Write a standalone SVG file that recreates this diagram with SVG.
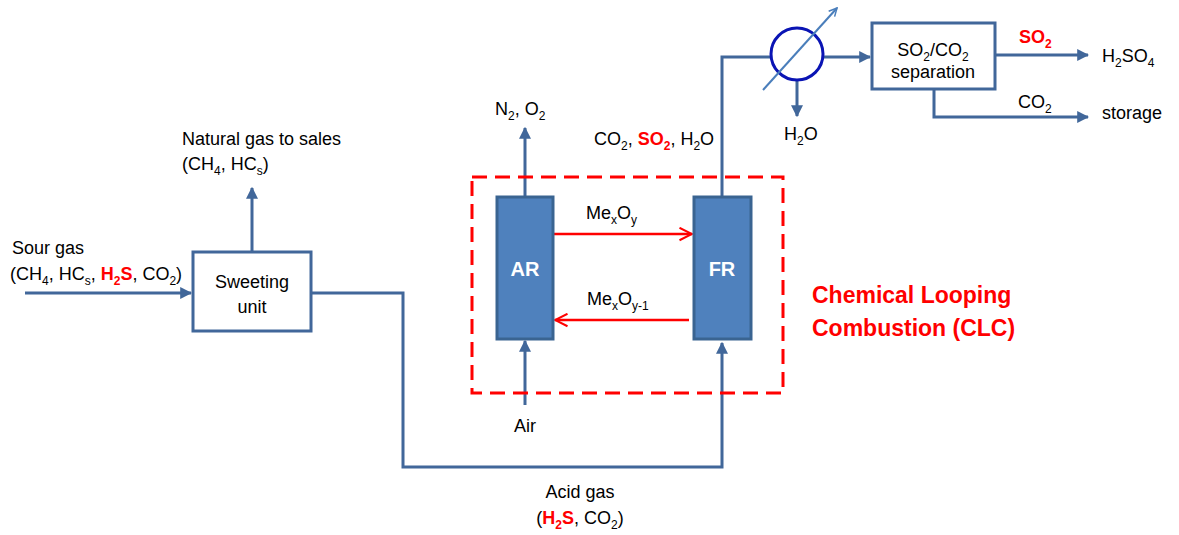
<svg xmlns="http://www.w3.org/2000/svg" width="1179" height="535" viewBox="0 0 1179 535">
<defs>
<style>
.t{font-family:"Liberation Sans",Arial,sans-serif;font-size:18px;fill:#000}
.s{font-size:12px}
.r{fill:#ff0000;font-weight:bold}
.ln{fill:none;stroke:#41679A;stroke-width:3}
.box{fill:#fff;stroke:#41679A;stroke-width:3}
.re{fill:#4F81BD;stroke:#3A6491;stroke-width:3}
.red{fill:none;stroke:#ff0000;stroke-width:2.5}
.w{fill:#fff;font-weight:bold;font-size:20px}
.clc{fill:#ff0000;font-weight:bold;font-size:23px}
</style>
<marker id="a" viewBox="0 0 10 10" refX="9" refY="5" markerWidth="4" markerHeight="4" orient="auto" markerUnits="strokeWidth"><path d="M0,0 L10,5 L0,10 z" fill="#41679A"/></marker>
<marker id="ro" viewBox="0 0 12 12" refX="11" refY="6" markerWidth="6" markerHeight="6" orient="auto" markerUnits="strokeWidth"><path d="M1,1 L11,6 L1,11" fill="none" stroke="#ff0000" stroke-width="1.6"/></marker>
<marker id="lb" viewBox="0 0 10 10" refX="9" refY="5" markerWidth="5" markerHeight="5" orient="auto" markerUnits="strokeWidth"><path d="M1,1 L9,5 L1,9" fill="none" stroke="#4A7EBB" stroke-width="1.5"/></marker>
</defs>
<g id="connectors">
<line class="ln" x1="25" y1="293" x2="191" y2="293" marker-end="url(#a)"/>
<line class="ln" x1="252" y1="252" x2="252" y2="188" marker-end="url(#a)"/>
<polyline class="ln" points="311,293 403,293 403,467 722,467 722,343" marker-end="url(#a)"/>
<line class="ln" x1="525" y1="197" x2="525" y2="128" marker-end="url(#a)"/>
<line class="ln" x1="525" y1="405" x2="525" y2="341" marker-end="url(#a)"/>
<polyline class="ln" points="722,197 722,57 770,57"/>
<line class="ln" x1="823" y1="57" x2="870" y2="57" marker-end="url(#a)"/>
<line class="ln" x1="797" y1="80" x2="797" y2="116" marker-end="url(#a)"/>
<line class="ln" x1="995" y1="55" x2="1088" y2="55" marker-end="url(#a)"/>
<polyline class="ln" points="934,89 934,117 1088,117" marker-end="url(#a)"/>
<line class="red" x1="554" y1="234" x2="692" y2="234" marker-end="url(#ro)"/>
<line class="red" x1="689" y1="320" x2="555" y2="320" marker-end="url(#ro)"/>
</g>
<g id="clc-boundary">
<rect x="472" y="177" width="311" height="216" fill="none" stroke="#ff0000" stroke-width="3" stroke-dasharray="15,8"/>
</g>
<g id="sweeting-unit">
<rect class="box" x="193" y="252" width="118" height="79"/>
<text class="t" x="252" y="288" text-anchor="middle">Sweeting</text>
<text class="t" x="252" y="313" text-anchor="middle">unit</text>
</g>
<g id="AR">
<rect class="re" x="497" y="197" width="56" height="142"/>
<text class="t w" x="525" y="276" text-anchor="middle">AR</text>
</g>
<g id="FR">
<rect class="re" x="694" y="197" width="57" height="142"/>
<text class="t w" x="722" y="276" text-anchor="middle">FR</text>
</g>
<g id="condenser">
<circle cx="797" cy="54" r="26" fill="#fff" stroke="#0A14B4" stroke-width="3"/>
<line x1="763" y1="90" x2="837" y2="8" stroke="#4A7EBB" stroke-width="2" marker-end="url(#lb)"/>
</g>
<g id="separation">
<rect class="box" x="872" y="23" width="123" height="66"/>
<text class="t" x="933" y="56" text-anchor="middle">SO<tspan class="s" dy="5">2</tspan><tspan dy="-5">/CO</tspan><tspan class="s" dy="5">2</tspan></text>
<text class="t" x="933" y="78" text-anchor="middle">separation</text>
</g>
<g id="labels">
<text class="t" x="12" y="254">Sour gas</text>
<text class="t" x="10" y="280">(CH<tspan class="s" dy="5">4</tspan><tspan dy="-5">, HC</tspan><tspan class="s" dy="5">s</tspan><tspan dy="-5">, </tspan><tspan class="r">H</tspan><tspan class="s r" dy="5">2</tspan><tspan class="r" dy="-5">S</tspan>, CO<tspan class="s" dy="5">2</tspan><tspan dy="-5">)</tspan></text>
<text class="t" x="182" y="145">Natural gas to sales</text>
<text class="t" x="182" y="170">(CH<tspan class="s" dy="5">4</tspan><tspan dy="-5">, HC</tspan><tspan class="s" dy="5">s</tspan><tspan dy="-5">)</tspan></text>
<text class="t" x="495" y="115">N<tspan class="s" dy="5">2</tspan><tspan dy="-5">, O</tspan><tspan class="s" dy="5">2</tspan></text>
<text class="t" x="594" y="145">CO<tspan class="s" dy="5">2</tspan><tspan dy="-5">, </tspan><tspan class="r">SO</tspan><tspan class="s r" dy="5">2</tspan><tspan dy="-5">, H</tspan><tspan class="s" dy="5">2</tspan><tspan dy="-5">O</tspan></text>
<text class="t" x="586" y="219">Me<tspan class="s" dy="5">x</tspan><tspan dy="-5">O</tspan><tspan class="s" dy="5">y</tspan></text>
<text class="t" x="587" y="305">Me<tspan class="s" dy="5">x</tspan><tspan dy="-5">O</tspan><tspan class="s" dy="5">y-1</tspan></text>
<text class="t" x="525" y="432" text-anchor="middle">Air</text>
<text class="t" x="580" y="498" text-anchor="middle">Acid gas</text>
<text class="t" x="580" y="524" text-anchor="middle">(<tspan class="r">H</tspan><tspan class="s r" dy="5">2</tspan><tspan class="r" dy="-5">S</tspan>, CO<tspan class="s" dy="5">2</tspan><tspan dy="-5">)</tspan></text>
<text class="t" x="784" y="140">H<tspan class="s" dy="5">2</tspan><tspan dy="-5">O</tspan></text>
<text class="t" x="1019" y="43"><tspan class="r">SO</tspan><tspan class="s r" dy="5">2</tspan></text>
<text class="t" x="1102" y="62">H<tspan class="s" dy="5">2</tspan><tspan dy="-5">SO</tspan><tspan class="s" dy="5">4</tspan></text>
<text class="t" x="1018" y="108">CO<tspan class="s" dy="5">2</tspan></text>
<text class="t" x="1102" y="119">storage</text>
<text class="t clc" x="812" y="303">Chemical Looping</text>
<text class="t clc" x="812" y="336">Combustion (CLC)</text>
</g>
</svg>
